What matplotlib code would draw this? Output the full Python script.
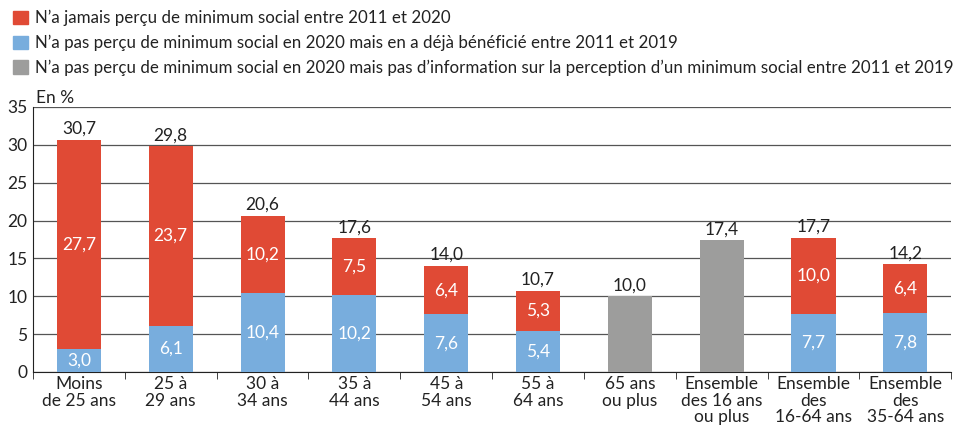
import matplotlib.pyplot as plt
from matplotlib.patches import Patch
import numpy as np

plt.rcParams['font.family'] = ['Lato', 'DejaVu Sans']

categories = ['Moins\nde 25 ans', '25 à\n29 ans', '30 à\n34 ans', '35 à\n44 ans',
              '45 à\n54 ans', '55 à\n64 ans', '65 ans\nou plus',
              'Ensemble\ndes 16 ans\nou plus', 'Ensemble\ndes\n16-64 ans',
              'Ensemble\ndes\n35-64 ans']
# bottom part: already received between 2011 and 2019
deja = [3.0, 6.1, 10.4, 10.2, 7.6, 5.4, 0, 0, 7.7, 7.8]
# top part: never received between 2011 and 2020
jamais = [27.7, 23.7, 10.2, 7.5, 6.4, 5.3, 0, 0, 10.0, 6.4]
# no information on earlier years
sans_info = [0, 0, 0, 0, 0, 0, 10.0, 17.4, 0, 0]
totals = [30.7, 29.8, 20.6, 17.6, 14.0, 10.7, 10.0, 17.4, 17.7, 14.2]

legend_labels = [
    "N\u2019a jamais perçu de minimum social entre 2011 et 2020",
    "N\u2019a pas perçu de minimum social en 2020 mais en a déjà bénéficié entre 2011 et 2019",
    "N\u2019a pas perçu de minimum social en 2020 mais pas d\u2019information sur la perception d\u2019un minimum social entre 2011 et 2019",
]

RED = '#e04a35'
BLUE = '#78addd'
GREY = '#9d9d9c'
TXT = '#222222'
FS = 12.5

def fmt(v):
    return f'{v:.1f}'.replace('.', ',')

fig = plt.figure(figsize=(9.56, 4.34), dpi=100)
ax = fig.add_axes([0.0345, 0.1429, 0.9605, 0.6106])

x = np.arange(len(categories))
w = 0.48
ax.bar(x, deja, w, color=BLUE, zorder=3)
ax.bar(x, jamais, w, bottom=deja, color=RED, zorder=3)
ax.bar(x, sans_info, w, color=GREY, zorder=3)

for i in range(len(x)):
    if deja[i] > 0:
        ax.text(x[i], deja[i] / 2, fmt(deja[i]), ha='center', va='center',
                color='white', fontsize=FS, zorder=4)
    if jamais[i] > 0:
        ax.text(x[i], deja[i] + jamais[i] / 2, fmt(jamais[i]), ha='center',
                va='center', color='white', fontsize=FS, zorder=4)
    ax.text(x[i], totals[i] + 0.4, fmt(totals[i]), ha='center', va='bottom',
            color=TXT, fontsize=FS, zorder=4)

ax.set_xlim(-0.5, len(x) - 0.5)
ax.set_ylim(0, 35)
ax.set_yticks(range(0, 36, 5))
ax.yaxis.grid(True, color='#555555', linewidth=0.9, zorder=0)
ax.set_axisbelow(True)
for s in ['top', 'right']:
    ax.spines[s].set_visible(False)
ax.spines['left'].set_color('#222222')
ax.spines['bottom'].set_color('#222222')
ax.tick_params(axis='y', length=0, labelsize=FS, labelcolor=TXT, pad=4)

# category labels centred on bars, ticks between categories
ax.set_xticks(x)
ax.set_xticklabels(categories, fontsize=FS, color=TXT, linespacing=1.05)
ax.tick_params(axis='x', which='major', length=0, pad=3)
ax.set_xticks(np.arange(-0.5, len(x), 1), minor=True)
ax.tick_params(axis='x', which='minor', length=5, color='#222222', direction='out')

ax.text(0.003, 1.005, 'En %', transform=ax.transAxes, fontsize=FS,
        color=TXT, ha='left', va='bottom')

handles = [Patch(color=RED), Patch(color=BLUE), Patch(color=GREY)]
fig.legend(handles, legend_labels, loc='upper left', bbox_to_anchor=(-0.002, 1.012),
           frameon=False, fontsize=12.2, handlelength=0.85, handleheight=0.85,
           handletextpad=0.4, labelspacing=0.5, labelcolor=TXT)

fig.savefig('out.png', dpi=100)
